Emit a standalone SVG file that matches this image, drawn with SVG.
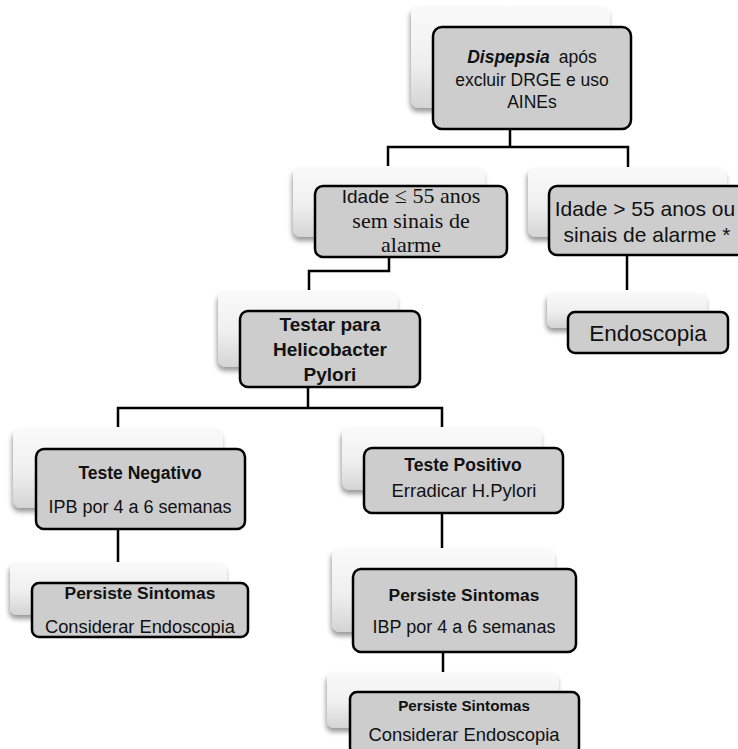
<svg xmlns="http://www.w3.org/2000/svg" width="738" height="749" viewBox="0 0 738 749">
<defs>
<linearGradient id="sg" x1="0" y1="0" x2="0" y2="1">
<stop offset="0" stop-color="#fafafa"/>
<stop offset="0.55" stop-color="#efefef"/>
<stop offset="1" stop-color="#d4d4d4"/>
</linearGradient>
<filter id="sh" x="-10%" y="-10%" width="120%" height="135%">
<feGaussianBlur in="SourceAlpha" stdDeviation="2.5"/>
<feOffset dx="-1" dy="4" result="b"/>
<feComponentTransfer><feFuncA type="linear" slope="0.4"/></feComponentTransfer>
<feMerge><feMergeNode/><feMergeNode in="SourceGraphic"/></feMerge>
</filter>
</defs>
<style>
.bg{fill:url(#sg);filter:url(#sh)}
.bx{fill:#cdcdcd;stroke:#000;stroke-width:2.5}
.c{fill:none;stroke:#000;stroke-width:2.5}
text{font-family:"Liberation Sans",Arial,sans-serif;fill:#111;text-anchor:middle}
.b{font-weight:bold}
.t{font-family:"Liberation Serif","Times New Roman",serif}
</style>
<rect width="738" height="749" fill="#fff"/>
<g id="connectors">
<path class="c" d="M510 129V147M388 166V147H628V167"/>
<path class="c" d="M389 257V271H309V290"/>
<path class="c" d="M627 255V290"/>
<path class="c" d="M308 387V408M118 427V408H442V427"/>
<path class="c" d="M118 529V562"/>
<path class="c" d="M442 513V548"/>
<path class="c" d="M443 652V672"/>
</g>
<g id="n-dispepsia">
<rect class="bg" x="411" y="6" width="199" height="102" rx="8"/>
<rect class="bx" x="433" y="27" width="198" height="102" rx="9"/>
<text x="532" y="63" font-size="17.5"><tspan class="b" font-style="italic">Dispepsia</tspan><tspan dx="9">após</tspan></text>
<text x="532" y="86" font-size="17.5">excluir DRGE e uso</text>
<text x="532" y="108" font-size="17.5">AINEs</text>
</g>
<g id="n-idade-menor">
<rect class="bg" x="293" y="167" width="192" height="70" rx="8"/>
<rect class="bx" x="315" y="186" width="192" height="71" rx="8"/>
<text x="411" y="203" font-size="20"><tspan font-size="19">Idade</tspan><tspan class="t" font-size="22"> ≤ 55 anos</tspan></text>
<text class="t" x="411" y="228" font-size="22">sem sinais de</text>
<text class="t" x="411" y="252" font-size="22">alarme</text>
</g>
<g id="n-idade-maior">
<rect class="bg" x="528" y="167" width="199" height="70" rx="8"/>
<rect class="bx" x="549" y="186" width="200" height="69" rx="8"/>
<text x="645" y="216" font-size="21">Idade &gt; 55 anos ou</text>
<text x="647" y="242" font-size="21">sinais de alarme *</text>
</g>
<g id="n-endoscopia">
<rect class="bg" x="547" y="292" width="160" height="36" rx="7"/>
<rect class="bx" x="568" y="312" width="160" height="41" rx="7"/>
<text x="648" y="341" font-size="22.5">Endoscopia</text>
</g>
<g id="n-testar">
<rect class="bg" x="218" y="291" width="180" height="76" rx="8"/>
<rect class="bx" x="240" y="311" width="180" height="76" rx="8"/>
<text class="b" x="330" y="331" font-size="19">Testar para</text>
<text class="b" x="330" y="356" font-size="19">Helicobacter</text>
<text class="b" x="330" y="381" font-size="19">Pylori</text>
</g>
<g id="n-negativo">
<rect class="bg" x="13" y="428" width="210" height="80" rx="8"/>
<rect class="bx" x="36" y="449" width="209" height="80" rx="8"/>
<text class="b" x="140" y="479" font-size="17.5">Teste Negativo</text>
<text x="140" y="513" font-size="18">IPB por 4 a 6 semanas</text>
</g>
<g id="n-positivo">
<rect class="bg" x="342" y="427" width="200" height="63" rx="8"/>
<rect class="bx" x="364" y="448" width="199" height="65" rx="8"/>
<text class="b" x="463" y="471" font-size="17.5">Teste Positivo</text>
<text x="464" y="497" font-size="18.5">Erradicar H.Pylori</text>
</g>
<g id="n-persiste-1">
<rect class="bg" x="10" y="562" width="217" height="53" rx="7"/>
<rect class="bx" x="32" y="583" width="216" height="54" rx="7"/>
<text class="b" x="140" y="599" font-size="17.4">Persiste Sintomas</text>
<text x="140" y="633" font-size="18.3">Considerar Endoscopia</text>
</g>
<g id="n-persiste-2">
<rect class="bg" x="332" y="548" width="223" height="84" rx="8"/>
<rect class="bx" x="353" y="569" width="223" height="83" rx="8"/>
<text class="b" x="464" y="601" font-size="17.4">Persiste Sintomas</text>
<text x="464" y="633" font-size="18">IBP por 4 a 6 semanas</text>
</g>
<g id="n-persiste-3">
<rect class="bg" x="327" y="672" width="232" height="56" rx="7"/>
<rect class="bx" x="350" y="692" width="229" height="62" rx="7"/>
<text class="b" x="464" y="711" font-size="15.2">Persiste Sintomas</text>
<text x="464" y="741" font-size="18.4">Considerar Endoscopia</text>
</g>
</svg>
